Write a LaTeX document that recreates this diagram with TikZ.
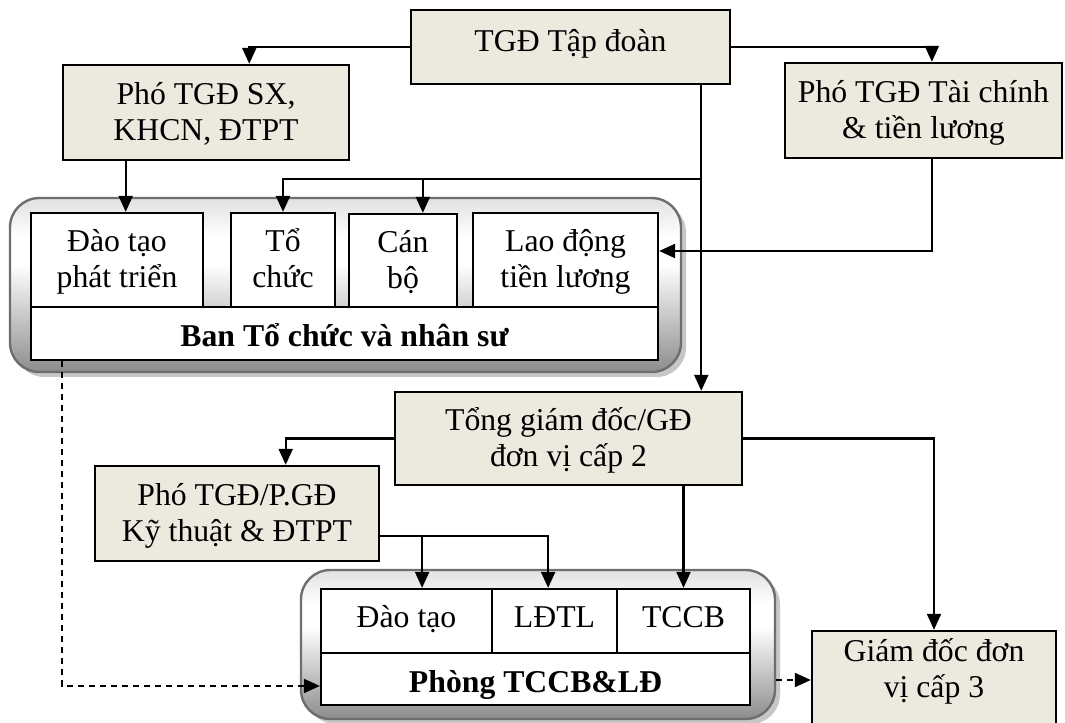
\documentclass[tikz,border=0pt]{standalone}
\usepackage{fontspec}
\setmainfont{Liberation Serif}
\usetikzlibrary{arrows.meta,calc}
\definecolor{boxfill}{RGB}{236,233,223}
\definecolor{panelrim}{RGB}{110,110,110}
% grey-white-grey band used inside the two department panels
\pgfdeclareverticalshading{panelshade}{100bp}{color(0bp)=(black!45); color(25bp)=(black!45); color(56bp)=(white); color(64bp)=(white); color(75bp)=(black!12); color(100bp)=(black!12)}

\begin{document}
\begin{tikzpicture}[x=0.75pt,y=-0.75pt,
  every node/.style={font=\fontsize{23.8}{27}\selectfont},
  % a node spanning the rectangle from (#1,#2) to (#3,#4)
  spans/.style n args={4}{at={({(#1+#3)/2},{(#2+#4)/2})},
    minimum width={(#3-#1)*0.75pt}, minimum height={(#4-#2)*0.75pt}},
  % fixed text boxes so that baselines line up between neighbours
  twolines/.style={text height=45pt, text depth=3pt},
  oneline/.style={text height=16pt, text depth=5.5pt},
  lowline/.style={text height=22pt, text depth=2.5pt},
  headbox/.style={draw, line width=1.8pt, fill=boxfill, inner sep=0pt, align=center},
  cell/.style={draw, line width=1.7pt, fill=white, inner sep=0pt, align=center},
  boldcell/.style={cell, lowline, font=\fontsize{23.8}{27}\selectfont\bfseries},
  panel/.style={draw=panelrim, line width=1.8pt, rounded corners=22pt, shade, shading=panelshade, inner sep=0pt},
  panelshadow/.style={fill=black!22, rounded corners=22pt},
  link/.style={line width=1.6pt, -{Triangle[length=12pt,width=10.5pt]}},
  dashlink/.style={link, dash pattern=on 4.5pt off 3.75pt}]

\useasboundingbox (0,0) rectangle (1065,723);

% ---------- top management ----------
\node[headbox, spans={411}{10}{730}{84}, text height=16pt, text depth=8.5pt] (tgd) {TGĐ Tập đoàn};
\node[headbox, twolines, spans={63}{65}{349}{160}] (pho1) {Phó TGĐ SX,\\KHCN, ĐTPT};
\node[headbox, twolines, spans={785}{63}{1062}{158}] (pho2) {Phó TGĐ Tài chính\\\& tiền lương};

% ---------- group personnel board ----------
\fill[panelshadow] (15,203) rectangle (686,377);
\node[panel, spans={10}{198}{681}{372}] (boardpanel) {};
\node[cell, twolines, spans={31}{213}{203}{307}] (dtpt) {Đào tạo\\phát triển};
\node[cell, twolines, spans={231}{213}{335}{307}] (tochuc) {Tổ\\chức};
\node[cell, twolines, spans={349}{214}{457}{307}] (canbo) {Cán\\bộ};
\node[cell, twolines, spans={473}{213}{658}{307}] (ldtl) {Lao động\\tiền lương};
\node[boldcell, spans={31}{307}{658}{360}] (ban) {Ban Tổ chức và nhân sư};

% ---------- level-2 unit ----------
\node[headbox, twolines, spans={395}{392}{742}{485}] (tong) {Tổng giám đốc/GĐ\\đơn vị cấp 2};
\node[headbox, twolines, spans={95}{466}{379}{561}] (pho3) {Phó TGĐ/P.GĐ\\Kỹ thuật \& ĐTPT};

% ---------- unit personnel office ----------
\fill[panelshadow] (306,575) rectangle (780,724);
\node[panel, spans={301}{570}{775}{719}] (officepanel) {};
\node[cell, oneline, spans={321}{589}{492}{653}] (dt) {Đào tạo};
\node[cell, oneline, spans={492}{589}{617}{653}] (ld) {LĐTL};
\node[cell, oneline, spans={617}{589}{750}{653}] (tccb) {TCCB};
\node[boldcell, spans={321}{653}{750}{705}] (phong) {Phòng TCCB\&LĐ};

% ---------- level-3 unit ----------
\node[headbox, spans={812}{631}{1056}{729}] (gd3) {};
\node[align=center, twolines, inner sep=0pt] (gd3text) at ($(gd3.center)+(0,-11)$) {Giám đốc đơn\\vị cấp 3};

% ---------- connectors ----------
\coordinate (forky) at (0,179);
\draw[link] (tgd.west) -| ($(pho1.north west)!0.65!(pho1.north east)$);
\draw[link] (tgd.east) -| ($(pho2.north west)!0.53!(pho2.north east)$);

\coordinate (dtin) at ($(dtpt.north west)!0.55!(dtpt.north east)$);
\draw[link] (pho1.south -| dtin) -- (dtin);

\coordinate (trunkin) at ($(tong.north west)!0.88!(tong.north east)$);
\draw[link] (tgd.south -| trunkin) -- (trunkin);
\draw[link] (trunkin |- forky) -| (tochuc.north);
\coordinate (cbin) at ($(canbo.north west)!0.68!(canbo.north east)$);
\draw[link] (cbin |- forky) -- (cbin);

\coordinate (p2out) at ($(pho2.south west)!0.53!(pho2.south east)$);
\draw[link] (p2out) |- ($(ldtl.east)+(0,-9)$);

\draw[link] (tong.west) -| ($(pho3.north west)!0.67!(pho3.north east)$);
\draw[link] (tong.east) -| (gd3.north);

\coordinate (p3out) at ($(pho3.south east)!0.27!(pho3.north east)$);
\coordinate (ldin) at ($(ld.north west)!0.45!(ld.north east)$);
\coordinate (dtin2) at ($(dt.north west)!0.59!(dt.north east)$);
\draw[link] (p3out) -| (ldin);
\draw[link] (dtin2 |- p3out) -- (dtin2);
\draw[link] (tong.south -| tccb.north) -- (tccb.north);

\coordinate (banout) at ($(ban.south west)!0.051!(ban.south east)$);
\draw[dashlink] (banout) |- ($(phong.west)+(0,7)$);
\draw[dashlink] (gd3.west -| officepanel.east) -- (gd3.west);
\end{tikzpicture}
\end{document}
